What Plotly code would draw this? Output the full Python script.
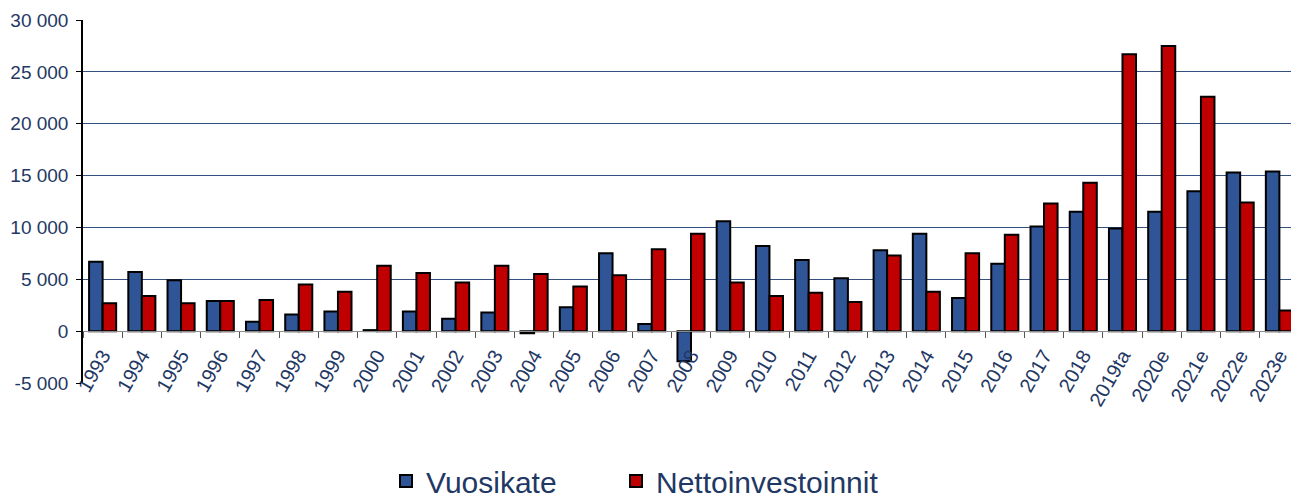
import plotly.graph_objects as go

categories = ["1993", "1994", "1995", "1996", "1997", "1998", "1999", "2000", "2001", "2002",
              "2003", "2004", "2005", "2006", "2007", "2008", "2009", "2010", "2011", "2012",
              "2013", "2014", "2015", "2016", "2017", "2018", "2019ta", "2020e", "2021e",
              "2022e", "2023e"]
vuosikate = [6700, 5700, 4900, 2900, 900, 1600, 1900, 100, 1900, 1200,
             1800, -200, 2300, 7500, 700, -2900, 10600, 8200, 6850, 5100,
             7800, 9400, 3200, 6500, 10100, 11500, 9900, 11500, 13500,
             15300, 15400]
nettoinvestoinnit = [2700, 3400, 2700, 2900, 3000, 4500, 3800, 6300, 5600, 4700,
                     6300, 5500, 4300, 5400, 7900, 9400, 4700, 3400, 3700, 2800,
                     7300, 3800, 7500, 9300, 12300, 14300, 26700, 27500, 22600,
                     12400, 2000]
y_tickvals = [-5000, 0, 5000, 10000, 15000, 20000, 25000, 30000]
y_ticktext = ["-5 000", "0", "5 000", "10 000", "15 000", "20 000", "25 000", "30 000"]

NAVY = "#1F3864"
BLUE = "#2F5597"
RED = "#C00000"

# page body has an 8px margin; figure is sized to fill the rest of the window
W, H = 1291, 488
OFF = 8
PLOT_L, PLOT_R, PLOT_T, PLOT_B = 83, 1299, 20, 383  # screen pixels
PW = PLOT_R - PLOT_L
PH = PLOT_B - PLOT_T

fig = go.Figure()
fig.add_trace(go.Bar(x=categories, y=vuosikate, name="Vuosikate", legend="legend",
                     marker=dict(color=BLUE, line=dict(color="black", width=2))))
fig.add_trace(go.Bar(x=categories, y=nettoinvestoinnit, name="Nettoinvestoinnit", legend="legend2",
                     marker=dict(color=RED, line=dict(color="black", width=2))))

legend_common = dict(orientation="h", yanchor="middle", xanchor="left",
                     y=(PLOT_B - 481) / PH,
                     font=dict(size=30, color=NAVY), itemwidth=30,
                     bgcolor="rgba(0,0,0,0)", borderwidth=0)

fig.update_layout(
    width=W, height=H,
    margin=dict(l=PLOT_L - OFF, r=W + OFF - PLOT_R, t=PLOT_T - OFF, b=H + OFF - PLOT_B,
                autoexpand=False),
    plot_bgcolor="white", paper_bgcolor="white",
    barmode="group", bargap=0.31, bargroupgap=0,
    font=dict(family="Liberation Sans, Arial, sans-serif", color=NAVY, size=19),
    showlegend=True,
    legend=dict(x=(386 - PLOT_L) / PW, **legend_common),
    legend2=dict(x=(616 - PLOT_L) / PW, **legend_common),
    xaxis=dict(
        type="category", anchor="free", position=5000 / 35000,
        showgrid=False, showline=True, linecolor="#8c8c8c", linewidth=1,
        ticks="outside", ticklen=6, tickcolor="#555555", tickson="boundaries",
        tickangle=-60, tickfont=dict(size=20, color=NAVY), ticklabelstandoff=4,
        zeroline=False, automargin=False,
    ),
    yaxis=dict(
        range=[-5000, 30000], tickvals=y_tickvals, ticktext=y_ticktext,
        showgrid=True, gridcolor="#34507F", gridwidth=1,
        showline=True, linecolor="black", linewidth=1.5,
        ticks="outside", ticklen=5, tickcolor="black", ticklabelstandoff=4,
        zeroline=False, tickfont=dict(size=19, color=NAVY), automargin=False,
    ),
)

fig.write_html("out.html")
